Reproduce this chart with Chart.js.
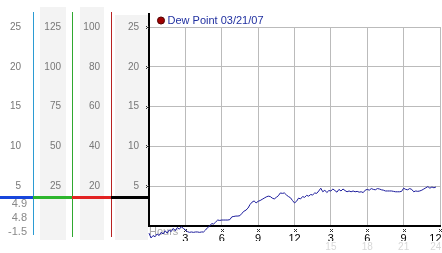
<!DOCTYPE html>
<html>
<head>
<meta charset="utf-8">
<script src="https://cdn.jsdelivr.net/npm/chart.js@4.4.1/dist/chart.umd.min.js"></script>
<style>
  html, body { margin: 0; padding: 0; background: #fff; }
  #dewChart { display: block; }
</style>
</head>
<body>
<canvas id="dewChart" width="442" height="253"></canvas>
<script>
var seriesLabel = "Dew Point 03/21/07";
var stepMinutes = 10;
// one reading every 10 minutes from midnight
var dewPoint = [
  -0.9, -1.5, -1.2, -1.35, -1.0, -1.2, -0.8, -1.0, -0.6, -0.9,
  -0.5, -0.7, -0.3, -0.6, -0.2, -0.4, -0.1, -0.3, -0.5, -0.7,
  -0.8, -0.75, -0.8, -0.75, -0.75, -0.8, -0.75, -0.75, -0.5, -0.2,
  0.0, 0.3, 0.25, 0.5, 0.75, 0.7, 0.75, 0.75, 0.75, 0.75,
  0.8, 1.15, 1.2, 1.25, 1.25, 1.3, 1.6, 1.85, 2.0, 2.25,
  2.7, 3.0, 3.15, 2.9, 3.1, 3.2, 3.35, 3.5, 3.65, 3.75,
  3.7, 3.5, 3.4, 3.6, 3.8, 4.15, 4.1, 4.15, 3.9, 3.7,
  3.55, 3.2, 2.9, 3.1, 3.5, 3.4, 3.7, 3.6, 3.85, 3.75,
  3.95, 3.9, 4.15, 4.1, 4.4, 4.75, 4.3, 4.5, 4.2, 4.45,
  4.4, 4.65, 4.45, 4.25, 4.6, 4.4, 4.65, 4.45, 4.3, 4.4,
  4.3, 4.4, 4.3, 4.35, 4.25, 4.3, 4.2, 4.5, 4.6, 4.5,
  4.7, 4.6, 4.55, 4.7, 4.65, 4.55, 4.5, 4.4, 4.4, 4.4,
  4.4, 4.35, 4.3, 4.3, 4.3, 4.35, 4.75, 4.6, 4.55, 4.7,
  4.6, 4.3, 4.4, 4.35, 4.4, 4.5, 4.65, 4.8, 4.95, 4.75,
  4.9, 4.8, 4.9
];
var summaryValues = ["4.9", "4.8", "-1.5"];
var markerLevel = 3.6;

Chart.defaults.font.family = '"Liberation Sans", Arial, sans-serif';

function cross(ctx, x, y) {
  ctx.fillRect(x - 1, y - 1, 1, 1);
  ctx.fillRect(x + 1, y - 1, 1, 1);
  ctx.fillRect(x, y, 1, 1);
  ctx.fillRect(x - 1, y + 1, 1, 1);
  ctx.fillRect(x + 1, y + 1, 1, 1);
}

var panelPlugin = {
  id: "panel",
  beforeDraw: function (chart) {
    var ctx = chart.ctx;
    ctx.save();
    ctx.fillStyle = "#f3f3f3";
    [["yG", 7, 6, 7], ["yR", 8, 7, 7], ["y", 4, 1, 15]].forEach(function (b) {
      var s = chart.scales[b[0]];
      ctx.fillRect(s.left + b[1], b[3], s.right - s.left - b[1] - b[2], 240 - b[3]);
    });
    ctx.restore();
  },
  beforeDatasetsDraw: function (chart) {
    var ctx = chart.ctx;
    var area = chart.chartArea;
    ctx.save();

    // coloured column rules
    [["yB", "#2b9bd3", 12, 235], ["yG", "#2fa82f", 12, 237], ["yR", "#b82222", 12, 237]].forEach(function (r) {
      var x = Math.round(chart.scales[r[0]].right) + 0.5;
      ctx.strokeStyle = r[1];
      ctx.lineWidth = 1;
      ctx.beginPath();
      ctx.moveTo(x, r[2]);
      ctx.lineTo(x, r[3]);
      ctx.stroke();
    });
    ctx.strokeStyle = "#000";
    ctx.lineWidth = 2;
    ctx.beginPath();
    ctx.moveTo(area.left, 13);
    ctx.lineTo(area.left, area.bottom);
    ctx.stroke();

    // thick marker across the panel
    var my = Math.round(chart.scales.y.getPixelForValue(markerLevel)) + 0.5;
    var segs = [[0, chart.scales.yB.right, "#1746dc"], [chart.scales.yB.right, chart.scales.yG.right, "#2db52d"],
      [chart.scales.yG.right, chart.scales.yR.right, "#e22222"], [chart.scales.yR.right, area.left, "#000"]];
    ctx.lineWidth = 3;
    segs.forEach(function (sg) {
      ctx.strokeStyle = sg[2];
      ctx.beginPath();
      ctx.moveTo(sg[0], my);
      ctx.lineTo(sg[1], my);
      ctx.stroke();
    });

    // summary numbers under the marker
    ctx.fillStyle = "#888";
    ctx.font = '11px "Liberation Sans", Arial, sans-serif';
    ctx.textAlign = "right";
    ctx.textBaseline = "middle";
    summaryValues.forEach(function (t, i) {
      ctx.fillText(t, 27, 204 + i * 14);
    });

    // small cross tick marks
    ctx.fillStyle = "#333";
    chart.scales.y.ticks.forEach(function (t) {
      if (t.value === 0) return;
      cross(ctx, 147, Math.round(chart.scales.y.getPixelForValue(t.value)));
    });
    chart.scales.x.ticks.forEach(function (t) {
      if (t.value === 0) return;
      cross(ctx, Math.round(chart.scales.x.getPixelForValue(t.value)), 230);
    });
    ctx.restore();
  }
};

function sideAxis(max, step, width, weight, pad) {
  return {
    position: "left",
    weight: weight,
    min: 0,
    max: max,
    ticks: {
      stepSize: step,
      padding: pad,
      color: "#777",
      font: { size: 10 },
      callback: function (v) { return v === 0 ? "" : v; }
    },
    grid: { display: false, drawTicks: false },
    border: { display: false },
    afterFit: function (s) {
      s.width = width;
      s.paddingTop = 0;
      s.paddingBottom = 0;
    }
  };
}

var points = dewPoint.map(function (v, i) {
  return { x: i * stepMinutes / 60, y: v };
});

var mainY = sideAxis(25, 5, 38, 0, 10);
mainY.grid = { display: true, color: "#bbb", drawTicks: false };

new Chart(document.getElementById("dewChart"), {
  type: "line",
  data: {
    datasets: [
      {
        label: seriesLabel,
        data: points,
        xAxisID: "x",
        yAxisID: "y",
        borderColor: "#1c1c9c",
        backgroundColor: "#a00000",
        borderWidth: 1,
        pointRadius: 0,
        pointStyle: "circle",
        tension: 0,
        fill: false,
        clip: false
      }
    ]
  },
  options: {
    responsive: false,
    animation: false,
    layout: { padding: { top: 4, left: 0, right: 2, bottom: 0 } },
    plugins: {
      tooltip: { enabled: false },
      legend: {
        position: "top",
        align: "start",
        fullSize: false,
        maxHeight: 23,
        labels: {
          usePointStyle: true,
          boxWidth: 2,
          boxHeight: 5,
          padding: 11,
          color: "#2030a0",
          font: { size: 11 },
          generateLabels: function (chart) {
            var items = Chart.defaults.plugins.legend.labels.generateLabels(chart);
            items.forEach(function (it) {
              it.fillStyle = "#a00000";
              it.strokeStyle = "#500000";
              it.lineWidth = 1;
            });
            return items;
          }
        }
      }
    },
    scales: {
      x: {
        type: "linear",
        position: "bottom",
        weight: 0,
        min: 0,
        max: 24,
        ticks: {
          stepSize: 3,
          autoSkip: false,
          maxRotation: 0,
          padding: 6,
          color: "#000",
          font: { size: 11 },
          // last label is nudged left so it stays inside the picture
          callback: function (v) { return v === 0 ? "" : v === 24 ? "12   " : (v % 12 || 12); }
        },
        grid: { color: "#bbb", drawTicks: false },
        border: { color: "#000", width: 2 },
        title: {
          display: true,
          text: "Hours",
          align: "start",
          color: "#aaa",
          font: { size: 11 },
          padding: { top: 0, bottom: 2 }
        },
        afterFit: function (s) {
          s.height = 15;
          s.paddingLeft = 0;
          s.paddingRight = 0;
        }
      },
      x2: {
        type: "linear",
        position: "bottom",
        weight: 1,
        min: 0,
        max: 24,
        ticks: {
          stepSize: 3,
          autoSkip: false,
          maxRotation: 0,
          padding: 0,
          color: "#d8d8d8",
          font: { size: 10 },
          callback: function (v) { return v === 24 ? "24   " : v > 12 ? v : ""; }
        },
        grid: { display: false, drawTicks: false },
        border: { display: false },
        afterFit: function (s) {
          s.height = 12;
          s.paddingLeft = 0;
          s.paddingRight = 0;
        }
      },
      y: mainY,
      yR: sideAxis(100, 20, 39, 1, 11),
      yG: sideAxis(125, 25, 39, 2, 11),
      yB: sideAxis(25, 5, 33, 3, 12)
    }
  },
  plugins: [panelPlugin]
});
</script>
</body>
</html>
